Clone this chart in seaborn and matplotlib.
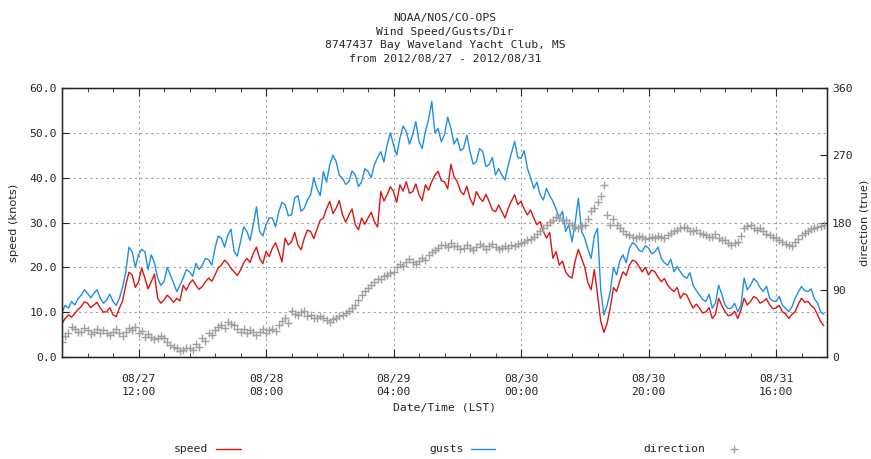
import matplotlib
matplotlib.use("Agg")
import matplotlib.pyplot as plt
import matplotlib.dates as mdates
from matplotlib.lines import Line2D
from matplotlib.ticker import FormatStrFormatter
import pandas as pd
import seaborn as sns

sns.set_style("ticks")
plt.rcParams['font.family'] = ['DejaVu Sans Mono']

# half-hourly readings, 2012-08-27 00:00 .. 2012-08-31 23:30
start = "2012-08-27 00:00"

speed = [7.5, 8.6, 9.4, 8.9, 9.7, 10.6, 11.2, 12.3, 12.0, 11.0, 11.6, 12.2, 10.9, 10.0, 10.1, 11.0, 9.4, 9.0, 10.9, 12.5,
         16.0, 18.9, 18.3, 15.5, 16.8, 19.8, 17.6, 15.2, 16.8, 18.5, 13.1, 12.0, 12.7, 13.8, 13.1, 12.2, 13.1, 12.5, 16.0, 14.9,
         16.4, 17.2, 16.0, 15.1, 15.7, 16.8, 17.6, 16.9, 18.3, 19.9, 20.5, 21.6, 20.9, 19.8, 19.0, 18.2, 19.4, 21.0, 22.0, 21.1,
         23.1, 24.5, 22.0, 20.8, 23.5, 22.4, 24.3, 25.5, 23.5, 21.2, 26.5, 25.0, 25.7, 27.8, 25.0, 23.9, 26.5, 28.3, 28.0, 26.4,
         28.5, 30.5, 31.0, 33.1, 34.7, 32.0, 33.2, 34.9, 31.7, 30.1, 31.7, 33.0, 29.5, 28.4, 31.0, 29.6, 31.0, 32.3, 30.2, 29.0,
         36.9, 34.8, 36.2, 38.0, 36.9, 34.5, 38.4, 37.0, 39.1, 36.5, 36.9, 38.6, 36.2, 34.9, 38.4, 37.2, 39.1, 40.6, 41.4, 39.3,
         39.1, 37.5, 43.0, 40.2, 39.1, 37.0, 36.2, 38.1, 35.4, 33.9, 36.9, 35.5, 34.7, 36.3, 34.7, 32.8, 32.4, 33.9, 32.4, 31.0,
         33.2, 34.8, 36.2, 34.0, 34.7, 33.0, 31.7, 32.8, 31.0, 29.5, 30.2, 28.0, 26.5, 27.8, 22.0, 23.5, 20.5, 21.4, 19.0, 18.0,
         17.6, 21.5, 24.0, 22.0, 20.0, 16.5, 15.0, 19.5, 14.0, 8.0, 5.5, 7.5, 11.0, 15.5, 14.6, 17.0, 19.0, 18.2, 20.5, 21.6,
         21.3, 20.2, 19.0, 20.0, 18.3, 19.4, 19.0, 17.8, 16.8, 17.5, 16.0, 15.2, 14.6, 15.5, 13.1, 14.2, 13.8, 12.3, 10.9, 11.8,
         10.9, 9.8, 10.1, 11.0, 8.6, 9.5, 13.1, 11.5, 10.1, 9.2, 9.4, 10.2, 8.6, 10.5, 13.1, 11.6, 12.4, 13.5, 13.1, 12.0,
         12.4, 13.0, 11.6, 10.8, 10.9, 11.5, 10.1, 9.6, 8.6, 9.5, 10.1, 11.8, 13.1, 12.2, 12.4, 11.5, 10.9, 9.5, 7.9, 7.0]

gusts = [10.0, 11.5, 10.9, 12.4, 11.6, 13.0, 13.8, 15.0, 14.2, 13.2, 14.2, 15.0, 13.1, 12.0, 12.7, 14.0, 12.4, 11.5, 13.1, 15.5,
         19.0, 24.5, 23.5, 20.0, 22.8, 24.0, 23.5, 19.5, 22.8, 21.0, 17.6, 16.0, 16.8, 20.0, 18.3, 16.5, 14.6, 16.0, 17.6, 19.5,
         19.0, 18.0, 20.9, 19.5, 20.5, 22.0, 21.7, 20.5, 24.3, 27.0, 26.5, 24.5, 27.2, 28.5, 23.5, 22.5, 25.7, 29.0, 28.0, 26.0,
         29.5, 33.5, 28.0, 27.0, 29.5, 31.0, 31.0, 29.0, 32.4, 34.5, 34.0, 31.5, 31.7, 35.5, 36.0, 32.5, 33.2, 35.0, 36.2, 40.0,
         37.5, 36.0, 41.4, 39.0, 42.9, 45.0, 43.6, 40.5, 39.9, 38.5, 39.1, 41.5, 40.6, 38.0, 39.1, 42.0, 41.4, 40.0, 42.9, 44.5,
         45.8, 43.5, 47.3, 50.0, 47.3, 45.0, 48.8, 51.5, 50.3, 47.5, 49.6, 52.5, 48.1, 46.5, 50.3, 53.0, 57.0, 50.0, 51.0, 48.0,
         49.6, 53.5, 51.0, 47.5, 48.8, 46.0, 46.6, 49.5, 45.8, 43.0, 43.6, 46.5, 45.8, 42.5, 42.9, 44.5, 40.6, 42.0, 40.6, 39.5,
         42.9, 45.5, 48.1, 44.5, 44.3, 46.0, 42.1, 40.0, 37.6, 39.0, 36.2, 35.0, 37.6, 36.0, 34.7, 33.0, 31.0, 32.5, 28.0, 29.5,
         25.7, 30.0, 35.4, 28.0, 26.5, 24.0, 22.0, 27.0, 28.7, 15.0, 9.4, 11.5, 14.6, 20.0, 18.3, 21.5, 22.8, 21.0, 24.3, 25.5,
         25.0, 23.8, 23.5, 24.8, 24.3, 23.0, 23.5, 24.5, 22.0, 21.0, 20.5, 21.8, 19.0, 20.2, 19.0, 18.0, 17.6, 18.8, 16.0, 14.8,
         13.8, 12.8, 12.4, 14.0, 10.9, 12.0, 16.0, 14.0, 11.6, 10.8, 10.9, 12.0, 10.1, 11.5, 17.6, 15.0, 16.0, 17.5, 16.8, 15.5,
         14.6, 15.8, 13.1, 12.5, 12.4, 13.5, 11.6, 10.8, 10.1, 11.2, 13.1, 14.5, 15.7, 14.8, 14.6, 15.2, 13.1, 12.0, 10.1, 9.5]

direction = [20, 28, 32, 40, 38, 33, 34, 39, 36, 31, 34, 37, 32, 36, 32, 29, 34, 38, 32, 28,
             34, 39, 36, 40, 32, 35, 27, 31, 27, 24, 25, 28, 25, 20, 16, 13, 12, 8, 9, 12,
             12, 10, 18, 14, 25, 22, 32, 29, 36, 40, 43, 39, 47, 44, 43, 38, 34, 37, 32, 36,
             34, 30, 34, 38, 32, 36, 38, 35, 43, 48, 52, 46, 61, 57, 56, 60, 61, 55, 56, 52,
             52, 55, 52, 49, 47, 51, 52, 55, 56, 59, 61, 66, 70, 76, 83, 88, 92, 96, 101, 104,
             105, 108, 110, 112, 114, 120, 125, 122, 127, 131, 127, 124, 128, 133, 130, 136, 140, 143, 146, 150,
             150, 147, 152, 149, 148, 145, 146, 150, 146, 143, 147, 151, 148, 145, 148, 151, 147, 144, 146, 149,
             146, 150, 148, 151, 152, 154, 156, 158, 160, 164, 168, 172, 177, 181, 184, 188, 186, 183, 184, 180,
             177, 174, 172, 175, 177, 185, 195, 200, 208, 215, 230, 190, 177, 185, 177, 172, 168, 165, 163, 160,
             159, 162, 161, 158, 159, 161, 159, 162, 161, 159, 163, 166, 168, 170, 172, 174, 172, 169, 168, 170,
             166, 164, 163, 160, 161, 164, 159, 156, 157, 153, 150, 152, 154, 162, 172, 175, 177, 173, 170, 172,
             168, 165, 163, 161, 159, 157, 154, 151, 150, 148, 154, 158, 163, 166, 168, 171, 172, 174, 175, 176]

times = pd.date_range(start, periods=len(speed), freq="30min")
df = pd.DataFrame({"time": times, "speed": speed, "gusts": gusts, "direction": direction})

RED = "#dc1414"
BLUE = "#1e8ee6"
GREY = "#a0a0a0"
FS = 8.2

fig = plt.figure(figsize=(8.71, 4.59), dpi=100)
ax = fig.add_axes([0.0712, 0.2222, 0.8783, 0.5861])

sns.lineplot(data=df, x="time", y="speed", ax=ax, color=RED, linewidth=1)
sns.lineplot(data=df, x="time", y="gusts", ax=ax, color=BLUE, linewidth=1)

ax.set_xlim(pd.Timestamp("2012-08-27 00:00"), pd.Timestamp("2012-09-01 00:00"))
ax.set_ylim(0, 60)
ax.set_yticks(range(0, 61, 10))
ax.yaxis.set_major_formatter(FormatStrFormatter("%.1f"))

majors = pd.date_range("2012-08-27 12:00", "2012-08-31 16:00", freq="20h")
ax.set_xticks(mdates.date2num(majors))
ax.set_xticks(mdates.date2num(pd.date_range("2012-08-27 00:00", "2012-09-01 00:00", freq="4h")), minor=True)
ax.xaxis.set_major_formatter(mdates.DateFormatter("%m/%d\n%H:%M"))
for lbl in ax.get_xticklabels():
    lbl.set_linespacing(1.45)

ax.grid(True, which="major", color=GREY, linestyle=(0, (2, 3)), linewidth=0.8)
ax.tick_params(axis="x", which="major", direction="in", length=6, top=True, labelsize=FS, pad=12)
ax.tick_params(axis="x", which="minor", direction="in", length=3, top=True)
ax.tick_params(axis="y", direction="in", length=5, right=False, labelsize=FS)
for s in ax.spines.values():
    s.set_linewidth(1)
    s.set_color("black")

ax.set_xlabel("Date/Time (LST)", fontsize=FS, labelpad=4)
ax.set_ylabel("speed (knots)", fontsize=FS, family="DejaVu Sans", labelpad=8)

ax2 = ax.twinx()
sns.scatterplot(data=df, x="time", y="direction", ax=ax2, marker="+", color=GREY,
                s=40, linewidth=1.0)
ax2.set_ylim(0, 360)
ax2.set_yticks([0, 90, 180, 270, 360])
ax2.tick_params(axis="y", direction="in", length=5, labelsize=FS)
ax2.set_ylabel("direction (true)", fontsize=FS, family="DejaVu Sans", rotation=90, labelpad=5)
ax2.set_xlabel("")

fig.suptitle("NOAA/NOS/CO-OPS\nWind Speed/Gusts/Dir\n8747437 Bay Waveland Yacht Club, MS\nfrom 2012/08/27 - 2012/08/31",
             x=0.511, y=0.972, fontsize=FS, linespacing=1.46)

# key along the bottom
for label, tx, x0, x1, c, kind in [("speed", 0.2388, 0.2480, 0.2767, RED, "line"),
                                    ("gusts", 0.5327, 0.5407, 0.5683, BLUE, "line"),
                                    ("direction", 0.8094, 0.8427, None, GREY, "plus")]:
    fig.text(tx, 0.0218, label, ha="right", va="center", fontsize=FS)
    if kind == "line":
        fig.add_artist(Line2D([x0, x1], [0.0218, 0.0218], color=c, linewidth=1, transform=fig.transFigure))
    else:
        fig.add_artist(Line2D([x0], [0.0218], color=c, marker="+", markersize=6, linestyle="none",
                              transform=fig.transFigure))

fig.savefig("out.png", dpi=100)
